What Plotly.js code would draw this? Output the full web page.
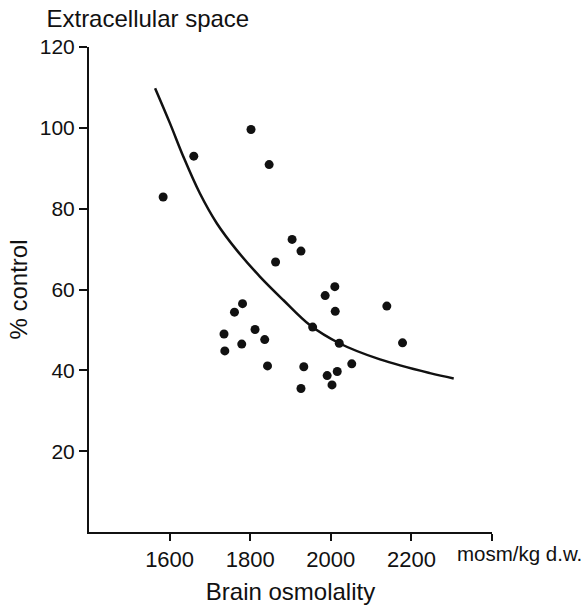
<!DOCTYPE html>
<html>
<head>
<meta charset="utf-8">
<script src="https://cdn.plot.ly/plotly-3.0.1.min.js"></script>
<style>html,body{margin:0;padding:0;background:#fff;}</style>
</head>
<body>
<div id="chart" style="width:586px;height:605px;"></div>
<script>
// Measured data points (brain osmolality, extracellular space % control)
const pointOsm = [1584, 1660, 1802, 1847, 1904, 1926, 1863, 2010, 1986, 2011, 2139, 1781, 1761, 1735, 1812, 1836, 1779, 1737, 1955, 2021, 2178, 1843, 1933, 2052, 2016, 1991, 2003, 1926];
const pointECS = [82.9, 93.0, 99.6, 90.9, 72.4, 69.5, 66.8, 60.7, 58.5, 54.6, 55.9, 56.5, 54.4, 49.0, 50.1, 47.6, 46.5, 44.8, 50.7, 46.7, 46.8, 41.1, 40.9, 41.6, 39.7, 38.7, 36.4, 35.5];

// Fitted curve
const curveOsm = [1564, 1601, 1634, 1675, 1717, 1766, 1824, 1882, 1948, 2021, 2122, 2246, 2305];
const curveECS = [109.8, 101.1, 92.9, 83.8, 76.4, 69.8, 63.2, 57.4, 51.2, 46.7, 42.7, 39.3, 38.0];

const xTickVals = [1600, 1800, 2000, 2200, 2400];
const xTickText = ['1600', '1800', '2000', '2200', ''];
const yTickVals = [20, 40, 60, 80, 100, 120];

const FONT = 'Liberation Sans, Arial, Helvetica, sans-serif';

const traces = [
  {
    x: curveOsm, y: curveECS, type: 'scatter', mode: 'lines',
    line: {color: '#111', width: 2.5, shape: 'spline', smoothing: 1},
    hoverinfo: 'skip', showlegend: false
  },
  {
    x: pointOsm, y: pointECS, type: 'scatter', mode: 'markers',
    marker: {color: '#111', size: 9},
    showlegend: false
  }
];

const layout = {
  width: 586, height: 605,
  margin: {l: 89, r: 94, t: 47, b: 73},
  paper_bgcolor: '#fff', plot_bgcolor: '#fff',
  font: {family: FONT, color: '#111', size: 22},
  showlegend: false,
  title: {
    text: 'Extracellular space',
    font: {family: FONT, size: 24, color: '#111'},
    x: 0.146, xref: 'paper', xanchor: 'center',
    y: 0.970, yref: 'container', yanchor: 'middle'
  },
  xaxis: {
    range: [1400, 2400], showgrid: false, zeroline: false,
    showline: true, linecolor: '#111', linewidth: 2,
    ticks: 'outside', ticklen: 7, tickwidth: 2, tickcolor: '#111',
    tickvals: xTickVals, ticktext: xTickText,
    tickfont: {family: FONT, size: 22, color: '#111'},
    title: {text: 'Brain osmolality', font: {family: FONT, size: 24, color: '#111'}, standoff: 12}
  },
  yaxis: {
    range: [0, 120], showgrid: false, zeroline: false,
    showline: true, linecolor: '#111', linewidth: 2,
    ticks: 'outside', ticklen: 8, tickwidth: 2, tickcolor: '#111',
    tickvals: yTickVals,
    tickfont: {family: FONT, size: 21, color: '#111'},
    title: {text: '% control', font: {family: FONT, size: 24, color: '#111'}, standoff: 5}
  },
  annotations: [
    {
      text: 'mosm/kg d.w.', xref: 'paper', yref: 'paper',
      x: 0.909, y: -0.0433, xanchor: 'left', yanchor: 'middle',
      showarrow: false, font: {family: FONT, size: 20.5, color: '#111'}
    }
  ]
};

Plotly.newPlot('chart', traces, layout, {displayModeBar: false, staticPlot: true});
</script>
</body>
</html>
